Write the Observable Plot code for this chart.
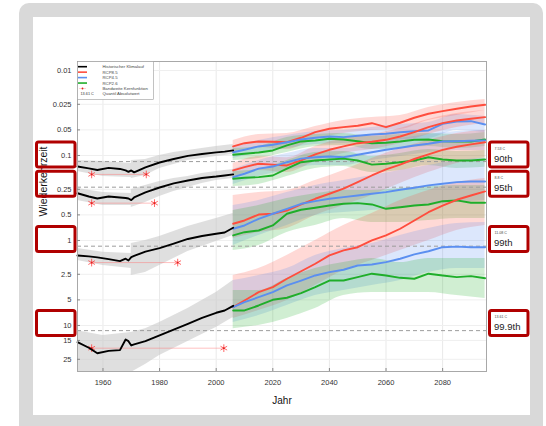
<!DOCTYPE html>
<html><head><meta charset="utf-8">
<script src="https://cdn.jsdelivr.net/npm/d3@7"></script>
<script src="https://cdn.jsdelivr.net/npm/@observablehq/plot@0.6"></script>
<style>
html,body{margin:0;padding:0;width:546px;height:426px;overflow:hidden;background:#fff;font-family:"Liberation Sans",Arial,sans-serif;}
#frame{position:absolute;left:19px;top:3px;width:524px;height:440px;background:#d9d9d9;border-radius:10px;}
#panel{position:absolute;left:33px;top:17px;width:497px;height:398px;background:#fff;}
#chart{position:absolute;left:0;top:0;}
</style></head><body>
<div id="frame"></div><div id="panel"></div><div id="chart"></div>
<script>
// ---------- data ----------
const groups = ["90th", "95th", "99th", "99.9th"];
const quantileAbs = ["7.53 C", "8.8 C", "11.08 C", "13.61 C"];
const scenarios = ["RCP8.5", "RCP4.5", "RCP2.6"];
const scenarioColors = ["#ff4d3d", "#5b8ff0", "#1fae2a"];
const legendLabels = ["Historischer Klimalauf", "RCP8.5", "RCP4.5", "RCP2.6", "Bandweite Kernfunktion", "Quantil Absolutwert"];

const xTicks = [1960, 1980, 2000, 2020, 2040, 2060, 2080];
const yTicks = [0.01, 0.025, 0.05, 0.1, 0.25, 0.5, 1, 2.5, 5, 10, 15, 25];
const yTickLabels = ["0.01", "0.025", "0.05", "0.1", "0.25", "0.5", "1", "2.5", "5", "10", "15", "25"];

// dashed reference levels (return period of the quantile threshold)
const dashLevels = [0.118, 0.236, 1.167, 11.5];
// kernel bandwidth markers
const kernelY = [0.167, 0.364, 1.82, 18.5];
const kernelLeft = [1956, 1956, 1956, 1956];
const kernelRight = [1975.3, 1978.2, 1986.4, 2002.7];

// historical run
const histYears = [1951, 1955, 1958, 1962, 1966, 1968, 1969, 1970, 1971, 1975, 1980, 1985, 1990, 1995, 2000, 2003, 2006];
const hist90  = [0.135, 0.142, 0.148, 0.140, 0.144, 0.150, 0.156, 0.150, 0.158, 0.138, 0.121, 0.110, 0.101, 0.096, 0.092, 0.090, 0.087];
const hist95  = [0.278, 0.304, 0.321, 0.304, 0.312, 0.316, 0.321, 0.335, 0.312, 0.272, 0.238, 0.213, 0.197, 0.184, 0.177, 0.172, 0.167];
const hist99  = [1.50, 1.54, 1.58, 1.66, 1.75, 1.64, 1.72, 1.57, 1.52, 1.35, 1.23, 1.09, 0.960, 0.885, 0.834, 0.805, 0.709];
const hist999 = [15.7, 18.3, 21.2, 19.9, 19.5, 14.6, 15.3, 17.2, 16.7, 15.3, 13.1, 11.2, 9.55, 8.12, 7.09, 6.66, 5.87];

const histBandYears = [1951, 1960, 1970, 1970, 1975, 1980, 1985, 1990, 1995, 2000, 2006];
const hb90Lo  = [0.1145, 0.1177, 0.1242, 0.1145, 0.1115, 0.100, 0.0922, 0.0873, 0.0827, 0.0784, 0.0742];
const hb90Hi  = [0.154, 0.177, 0.182, 0.187, 0.172, 0.142, 0.128, 0.1145, 0.1085, 0.1027, 0.0973];
const hb95Lo  = [0.244, 0.272, 0.280, 0.251, 0.225, 0.202, 0.186, 0.177, 0.163, 0.154, 0.146];
const hb95Hi  = [0.338, 0.387, 0.387, 0.409, 0.357, 0.304, 0.265, 0.238, 0.213, 0.197, 0.186];
const hb99Lo  = [1.24, 1.38, 1.42, 1.085, 1.0, 0.897, 0.784, 0.684, 0.614, 0.551, 0.481];
const hb99Hi  = [1.72, 1.97, 2.14, 2.58, 2.38, 1.97, 1.63, 1.35, 1.18, 1.03, 0.873];
const hb999Lo = [11.5, 13.1, 12.1, 12.1, 10.9, 9.22, 7.63, 6.31, 5.08, 4.09, 2.96];
const hb999Hi = [38.7, 42.0, 42.0, 35.7, 28.8, 22.5, 18.6, 15.4, 12.8, 10.6, 8.05];

// scenario runs
const rcpYears = [2006, 2010, 2015, 2020, 2025, 2030, 2035, 2040, 2045, 2050, 2055, 2060, 2065, 2070, 2075, 2080, 2085, 2090, 2095];
const r85_90  = [0.0783, 0.0717, 0.0684, 0.0690, 0.0698, 0.0619, 0.0532, 0.0485, 0.0464, 0.0447, 0.0417, 0.0464, 0.0412, 0.0360, 0.0323, 0.0301, 0.0282, 0.0265, 0.0253];
const r45_90  = [0.0915, 0.0857, 0.0783, 0.0748, 0.0698, 0.0648, 0.0619, 0.0598, 0.0609, 0.0587, 0.0566, 0.0555, 0.0532, 0.0518, 0.0508, 0.0424, 0.0398, 0.0395, 0.0432];
const r26_90  = [0.0981, 0.0955, 0.0922, 0.0873, 0.0762, 0.0684, 0.0666, 0.0636, 0.0648, 0.0679, 0.0717, 0.0709, 0.0684, 0.0654, 0.0648, 0.0679, 0.0684, 0.0684, 0.0648];
const r85_95  = [0.150, 0.137, 0.125, 0.128, 0.131, 0.1145, 0.0973, 0.0857, 0.0783, 0.0717, 0.0690, 0.0654, 0.0598, 0.0532, 0.0464, 0.0417, 0.0387, 0.0370, 0.0354];
const r45_95  = [0.180, 0.164, 0.143, 0.135, 0.120, 0.109, 0.105, 0.103, 0.105, 0.098, 0.0915, 0.0857, 0.0811, 0.0762, 0.0728, 0.0684, 0.0679, 0.0672, 0.0666];
const r26_95  = [0.188, 0.183, 0.180, 0.172, 0.143, 0.120, 0.1145, 0.1115, 0.109, 0.1145, 0.128, 0.125, 0.120, 0.1145, 0.105, 0.1115, 0.1145, 0.1145, 0.1115];
const r85_99  = [0.636, 0.582, 0.495, 0.485, 0.444, 0.377, 0.323, 0.282, 0.246, 0.206, 0.172, 0.146, 0.128, 0.110, 0.097, 0.086, 0.079, 0.074, 0.070];
const r45_99  = [0.728, 0.666, 0.556, 0.485, 0.424, 0.370, 0.345, 0.323, 0.309, 0.296, 0.282, 0.270, 0.253, 0.240, 0.225, 0.215, 0.206, 0.202, 0.202];
const r26_99  = [0.873, 0.799, 0.763, 0.666, 0.485, 0.435, 0.412, 0.388, 0.370, 0.364, 0.377, 0.424, 0.406, 0.388, 0.377, 0.345, 0.338, 0.360, 0.360];
const r85_999 = [6.09, 5.08, 4.06, 3.54, 2.82, 2.30, 1.88, 1.50, 1.31, 1.20, 1.00, 0.873, 0.728, 0.582, 0.465, 0.388, 0.332, 0.296, 0.265];
const r45_999 = [6.09, 5.32, 4.65, 4.06, 3.38, 2.96, 2.58, 2.36, 2.21, 1.97, 1.92, 1.80, 1.64, 1.46, 1.34, 1.20, 1.18, 1.20, 1.20];
const r26_999 = [6.66, 6.66, 5.82, 4.99, 4.72, 4.17, 3.54, 2.96, 2.96, 2.70, 2.46, 2.58, 2.75, 2.82, 2.46, 2.58, 2.70, 2.63, 2.78];

// scenario uncertainty bands
const rcpBandYears = [2006, 2015, 2025, 2035, 2045, 2055, 2065, 2075, 2085, 2095];
const b85_90Lo  = [0.0666, 0.0566, 0.0551, 0.0456, 0.0387, 0.0357, 0.0338, 0.0272, 0.0238, 0.0219];
const b85_90Hi  = [0.0922, 0.0805, 0.0850, 0.0648, 0.0551, 0.0508, 0.0494, 0.0387, 0.0338, 0.0296];
const b45_90Lo  = [0.0783, 0.0666, 0.0582, 0.0522, 0.0508, 0.0468, 0.0432, 0.0409, 0.0329, 0.0348];
const b45_90Hi  = [0.1085, 0.0922, 0.0827, 0.0742, 0.0722, 0.0684, 0.0648, 0.0631, 0.0508, 0.0536];
const b26_90Lo  = [0.0827, 0.0783, 0.0614, 0.0566, 0.0551, 0.0598, 0.0566, 0.0551, 0.0566, 0.0536];
const b26_90Hi  = [0.1145, 0.1085, 0.0922, 0.0783, 0.0762, 0.0850, 0.0827, 0.0783, 0.0827, 0.0783];
const b85_95Lo  = [0.124, 0.103, 0.106, 0.0783, 0.0631, 0.0566, 0.0481, 0.0377, 0.0321, 0.0296];
const b85_95Hi  = [0.182, 0.150, 0.159, 0.118, 0.0947, 0.0850, 0.0722, 0.0566, 0.0468, 0.0420];
const b45_95Lo  = [0.146, 0.1145, 0.0947, 0.0827, 0.0827, 0.0722, 0.0631, 0.0566, 0.0522, 0.0508];
const b45_95Hi  = [0.219, 0.177, 0.150, 0.131, 0.131, 0.1145, 0.103, 0.0922, 0.0873, 0.0873];
const b26_95Lo  = [0.154, 0.146, 0.1145, 0.0922, 0.0897, 0.103, 0.0947, 0.0850, 0.0897, 0.0873];
const b26_95Hi  = [0.232, 0.219, 0.177, 0.142, 0.135, 0.159, 0.150, 0.131, 0.142, 0.138];
const b85_99Lo  = [0.296, 0.273, 0.258, 0.197, 0.150, 0.1085, 0.0827, 0.0666, 0.0551, 0.0508];
const b85_99Hi  = [0.947, 0.805, 0.722, 0.508, 0.388, 0.296, 0.214, 0.159, 0.124, 0.106];
const b45_99Lo  = [0.388, 0.338, 0.273, 0.225, 0.197, 0.172, 0.150, 0.131, 0.1145, 0.1085];
const b45_99Hi  = [1.145, 0.873, 0.666, 0.508, 0.468, 0.444, 0.420, 0.388, 0.357, 0.338];
const b26_99Lo  = [0.444, 0.388, 0.321, 0.282, 0.258, 0.258, 0.245, 0.232, 0.225, 0.225];
const b26_99Hi  = [1.311, 1.145, 0.805, 0.666, 0.551, 0.614, 0.614, 0.582, 0.551, 0.551];
const b85_999Lo = [2.58, 2.14, 1.50, 1.00, 0.666, 0.481, 0.338, 0.258, 0.208, 0.186];
const b85_999Hi = [8.27, 6.66, 5.08, 3.38, 2.25, 1.72, 1.31, 1.00, 0.763, 0.666];
const b45_999Lo = [2.96, 2.58, 2.14, 1.50, 1.24, 1.085, 0.873, 0.722, 0.631, 0.614];
const b45_999Hi = [9.22, 7.63, 5.82, 4.44, 3.88, 3.38, 2.96, 2.38, 2.14, 2.14];
const b26_999Lo = [3.88, 3.88, 2.80, 2.14, 1.82, 1.63, 1.82, 1.63, 1.63, 1.63];
const b26_999Hi = [10.9, 10.0, 8.27, 6.31, 4.44, 4.09, 4.09, 4.09, 4.44, 4.81];

// ---------- tables ----------
const histLines = [hist90, hist95, hist99, hist999];
const histLo = [hb90Lo, hb95Lo, hb99Lo, hb999Lo];
const histHi = [hb90Hi, hb95Hi, hb99Hi, hb999Hi];
const rcpLines = [[r85_90, r45_90, r26_90], [r85_95, r45_95, r26_95], [r85_99, r45_99, r26_99], [r85_999, r45_999, r26_999]];
const rcpLo = [[b85_90Lo, b45_90Lo, b26_90Lo], [b85_95Lo, b45_95Lo, b26_95Lo], [b85_99Lo, b45_99Lo, b26_99Lo], [b85_999Lo, b45_999Lo, b26_999Lo]];
const rcpHi = [[b85_90Hi, b45_90Hi, b26_90Hi], [b85_95Hi, b45_95Hi, b26_95Hi], [b85_99Hi, b45_99Hi, b26_99Hi], [b85_999Hi, b45_999Hi, b26_999Hi]];

const histRows = [], histBandRows = [], rcpRows = [], rcpBandRows = [];
groups.forEach((g, gi) => {
  histYears.forEach((yr, i) => histRows.push({group: g, year: yr, v: histLines[gi][i]}));
  histBandYears.forEach((yr, i) => histBandRows.push({group: g, year: yr, lo: histLo[gi][i], hi: histHi[gi][i]}));
  scenarios.forEach((s, si) => {
    rcpYears.forEach((yr, i) => rcpRows.push({group: g, scen: s, key: g + s, year: yr, v: rcpLines[gi][si][i]}));
    rcpBandYears.forEach((yr, i) => rcpBandRows.push({group: g, scen: s, key: g + s, year: yr, lo: rcpLo[gi][si][i], hi: rcpHi[gi][si][i]}));
  });
});
const kernelRows = [];
groups.forEach((g, i) => { kernelRows.push({year: kernelLeft[i], v: kernelY[i]}); kernelRows.push({year: kernelRight[i], v: kernelY[i]}); });
const kernelIdx = groups.map((g, i) => i);
const yTickRows = yTicks.map((v, i) => ({v, label: yTickLabels[i]}));

const FONT = "Liberation Sans, Arial, sans-serif";
const chart = Plot.plot({
  width: 546, height: 426,
  marginLeft: 77, marginRight: 60, marginTop: 61, marginBottom: 55,
  style: {background: "transparent", fontFamily: FONT, color: "#333", overflow: "visible"},
  x: {domain: [1951, 2095.5]},
  y: {type: "log", domain: [0.00784, 34.8], reverse: true, axis: null},
  color: {domain: scenarios, range: scenarioColors},
  marks: [
    Plot.gridX(xTicks, {stroke: "#e9e9e9", strokeOpacity: 1}),
    Plot.gridY(yTicks, {stroke: "#efefef", strokeOpacity: 1}),
    Plot.areaY(histBandRows, {x: "year", y1: "lo", y2: "hi", z: "group", fill: "#c4c4c4", fillOpacity: 0.55, clip: true}),
    Plot.areaY(rcpBandRows, {x: "year", y1: "lo", y2: "hi", z: "key", fill: "scen", fillOpacity: 0.21, curve: "monotone-x", clip: true}),
    Plot.ruleY(dashLevels, {stroke: "#9c9c9c", strokeDasharray: "4,3", strokeWidth: 1}),
    Plot.ruleY(kernelIdx, {y: i => kernelY[i], x1: i => kernelLeft[i], x2: i => kernelRight[i], stroke: "#ff7070", strokeOpacity: 0.55, strokeWidth: 0.8}),
    Plot.dot(kernelRows, {x: "year", y: "v", symbol: "asterisk", r: 3.6, stroke: "#ff4040", strokeWidth: 0.8}),
    Plot.dot(kernelRows, {x: "year", y: "v", r: 0.9, fill: "#e02020"}),
    Plot.lineY(rcpRows, {x: "year", y: "v", z: "key", stroke: "scen", strokeWidth: 1.9, clip: true}),
    Plot.lineY(histRows, {x: "year", y: "v", z: "group", stroke: "#000", strokeWidth: 1.9}),
    Plot.frame({stroke: "#a8a8a8", strokeWidth: 1}),
    Plot.tickY(yTicks, {insetRight: 406, stroke: "#888"}),
    Plot.tickX(xTicks, {insetTop: 307, stroke: "#888"}),
    Plot.text(["Wiederkehrzeit"], {frameAnchor: "left", dx: -34, rotate: -90, fontSize: 10.5, fill: "#111"}),
    Plot.text(yTickRows, {y: "v", text: "label", frameAnchor: "left", dx: -6, textAnchor: "end", fontSize: 7.5, fill: "#333"}),
    Plot.axisX(xTicks, {tickSize: 0, tickPadding: 8, fontSize: 7.5, label: null, tickFormat: d => String(d), fill: "#333"}),
    Plot.text(["Jahr"], {frameAnchor: "bottom", dy: 32, fontSize: 10, fill: "#111"})
  ]
});
document.getElementById("chart").appendChild(chart);

// ---------- annotation boxes (positioned with the y scale) ----------
const ys = chart.scale("y");
const svg = d3.select(chart);
const boxAnchors = [0.1, 0.25, 1, 10];
const boxShift = [-13, -17.5, -13.5, -14.5];
// white box fills sit below everything, red borders above
const fillG = svg.insert("g", ":first-child");
const rg = svg.append("g").attr("text-anchor", "start").attr("font-family", FONT);
boxAnchors.forEach((v, i) => {
  const top = ys.apply(v) + boxShift[i];
  fillG.append("rect").attr("x", 36.5).attr("y", top).attr("width", 38.5).attr("height", 25).attr("fill", "#fff");
  rg.append("rect").attr("x", 36.5).attr("y", top).attr("width", 38.5).attr("height", 25)
    .attr("rx", 2).attr("fill", "none").attr("stroke", "#b00000").attr("stroke-width", 3);
  rg.append("rect").attr("x", 489.5).attr("y", top).attr("width", 38.5).attr("height", 25)
    .attr("rx", 2).attr("fill", "#fff").attr("stroke", "#b00000").attr("stroke-width", 3);
  rg.append("text").attr("x", 494.5).attr("y", top + 8).attr("font-size", 3.6).attr("fill", "#444").text(quantileAbs[i]);
  rg.append("text").attr("x", 494).attr("y", top + 20).attr("font-size", 9.5).attr("fill", "#222").text(groups[i]);
});

// ---------- legend ----------
const leg = svg.append("g").attr("font-family", FONT).attr("text-anchor", "start");
leg.append("rect").attr("x", 77.5).attr("y", 61.5).attr("width", 76).attr("height", 38)
  .attr("fill", "#fff").attr("stroke", "#999").attr("stroke-width", 0.6);
const swatch = ["#000", scenarioColors[0], scenarioColors[1], scenarioColors[2]];
legendLabels.forEach((t, i) => {
  const yy = 66.7 + i * 5.45;
  if (i < 4) {
    leg.append("line").attr("x1", 78).attr("x2", 87).attr("y1", yy).attr("y2", yy)
      .attr("stroke", swatch[i]).attr("stroke-width", 1.6);
  } else if (i === 4) {
    leg.append("line").attr("x1", 79).attr("x2", 86).attr("y1", yy).attr("y2", yy)
      .attr("stroke", "#ff7070").attr("stroke-opacity", 0.5).attr("stroke-width", 0.6);
    leg.append("circle").attr("cx", 82.5).attr("cy", yy).attr("r", 0.9).attr("fill", "#e02020");
  } else {
    leg.append("text").attr("x", 80.5).attr("y", yy + 1.3).attr("font-size", 3.8).attr("fill", "#333").text(quantileAbs[3]);
  }
  leg.append("text").attr("x", 102.5).attr("y", yy + 1.5).attr("font-size", 4.3).attr("fill", "#444").text(t);
});
</script></body></html>
